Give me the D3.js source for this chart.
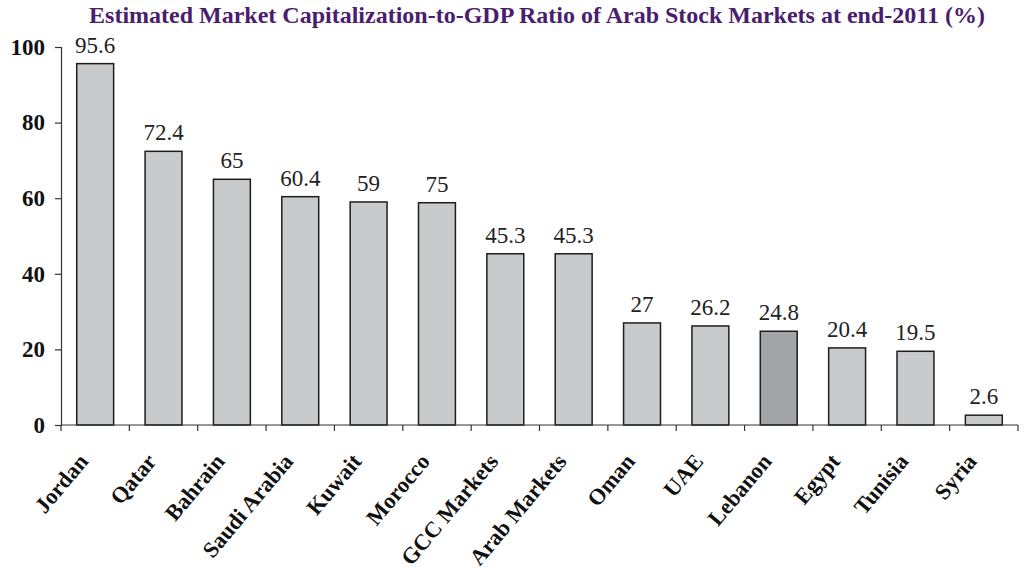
<!DOCTYPE html>
<html><head><meta charset="utf-8">
<script src="https://cdn.jsdelivr.net/npm/d3@7"></script>
<style>body{margin:0;background:#fff}svg{display:block}</style>
</head><body>
<script>
const categories = ["Jordan","Qatar","Bahrain","Saudi Arabia","Kuwait","Morocco","GCC Markets","Arab Markets","Oman","UAE","Lebanon","Egypt","Tunisia","Syria"];
const values = [95.6,72.4,65,60.4,59,58.8,45.3,45.3,27,26.2,24.8,20.4,19.5,2.6];
const valueLabels = ["95.6","72.4","65","60.4","59","75","45.3","45.3","27","26.2","24.8","20.4","19.5","2.6"];
const highlighted = ["Lebanon"];
const yTicks = [0,20,40,60,80,100];
const title = "Estimated Market Capitalization-to-GDP Ratio of Arab Stock Markets at end-2011 (%)";

const W=1028,H=573;
const m={left:61,right:10,top:47,bottom:148};
const svg=d3.select("body").append("svg").attr("width",W).attr("height",H);
const serif="'Liberation Serif','Times New Roman',serif";

const x=d3.scaleBand().domain(categories).range([m.left,W-m.right]).paddingInner(0.46).paddingOuter(0.23);
const y=d3.scaleLinear().domain([0,100]).range([H-m.bottom,m.top]);

svg.append("text").attr("x",537).attr("y",23).attr("text-anchor","middle")
 .attr("font-family",serif).attr("font-weight","bold").attr("font-size",24)
 .attr("fill","#4a1d6e").text(title);

// bars
svg.selectAll("rect.bar").data(categories).enter().append("rect")
 .attr("x",d=>x(d)).attr("width",x.bandwidth())
 .attr("y",(d,i)=>y(values[i])).attr("height",(d,i)=>y(0)-y(values[i]))
 .attr("fill",d=>highlighted.includes(d)?"#a2a4a7":"#c9cacc")
 .attr("stroke","#1e1e1e").attr("stroke-width",1.5);

// value labels
svg.selectAll("text.val").data(categories).enter().append("text")
 .attr("x",d=>x(d)+x.bandwidth()/2).attr("y",(d,i)=>y(values[i])-11)
 .attr("text-anchor","middle").attr("font-family",serif).attr("font-size",23)
 .attr("fill","#222").text((d,i)=>valueLabels[i]);

// y axis
const yAxis=svg.append("g").attr("transform",`translate(${m.left},0)`)
 .call(d3.axisLeft(y).tickValues(yTicks).tickSize(6).tickPadding(10));
yAxis.select(".domain").attr("stroke","#333").attr("stroke-width",1.2);
yAxis.selectAll(".tick line").attr("stroke","#333").attr("stroke-width",1.2);
yAxis.selectAll("text").attr("font-family",serif).attr("font-weight","bold").attr("font-size",23).attr("fill","#111");

// x axis line and boundary ticks
const boundaries=d3.range(categories.length+1).map(i=>m.left+i*(W-m.right-m.left)/categories.length);
svg.append("line").attr("x1",m.left).attr("x2",W-m.right).attr("y1",y(0)).attr("y2",y(0))
 .attr("stroke","#333").attr("stroke-width",1.2);
svg.selectAll("line.xt").data(boundaries).enter().append("line")
 .attr("x1",d=>d).attr("x2",d=>d).attr("y1",y(0)).attr("y2",y(0)+6)
 .attr("stroke","#333").attr("stroke-width",1.2);

// x labels
svg.selectAll("text.xl").data(categories).enter().append("text")
 .attr("transform",d=>`translate(${x(d)+x.bandwidth()/2-6},${y(0)+37}) rotate(-50)`)
 .attr("text-anchor","end")
 .attr("font-family",serif).attr("font-weight","bold").attr("font-size",22.5)
 .attr("fill","#111").text(d=>d);
</script>
</body></html>
